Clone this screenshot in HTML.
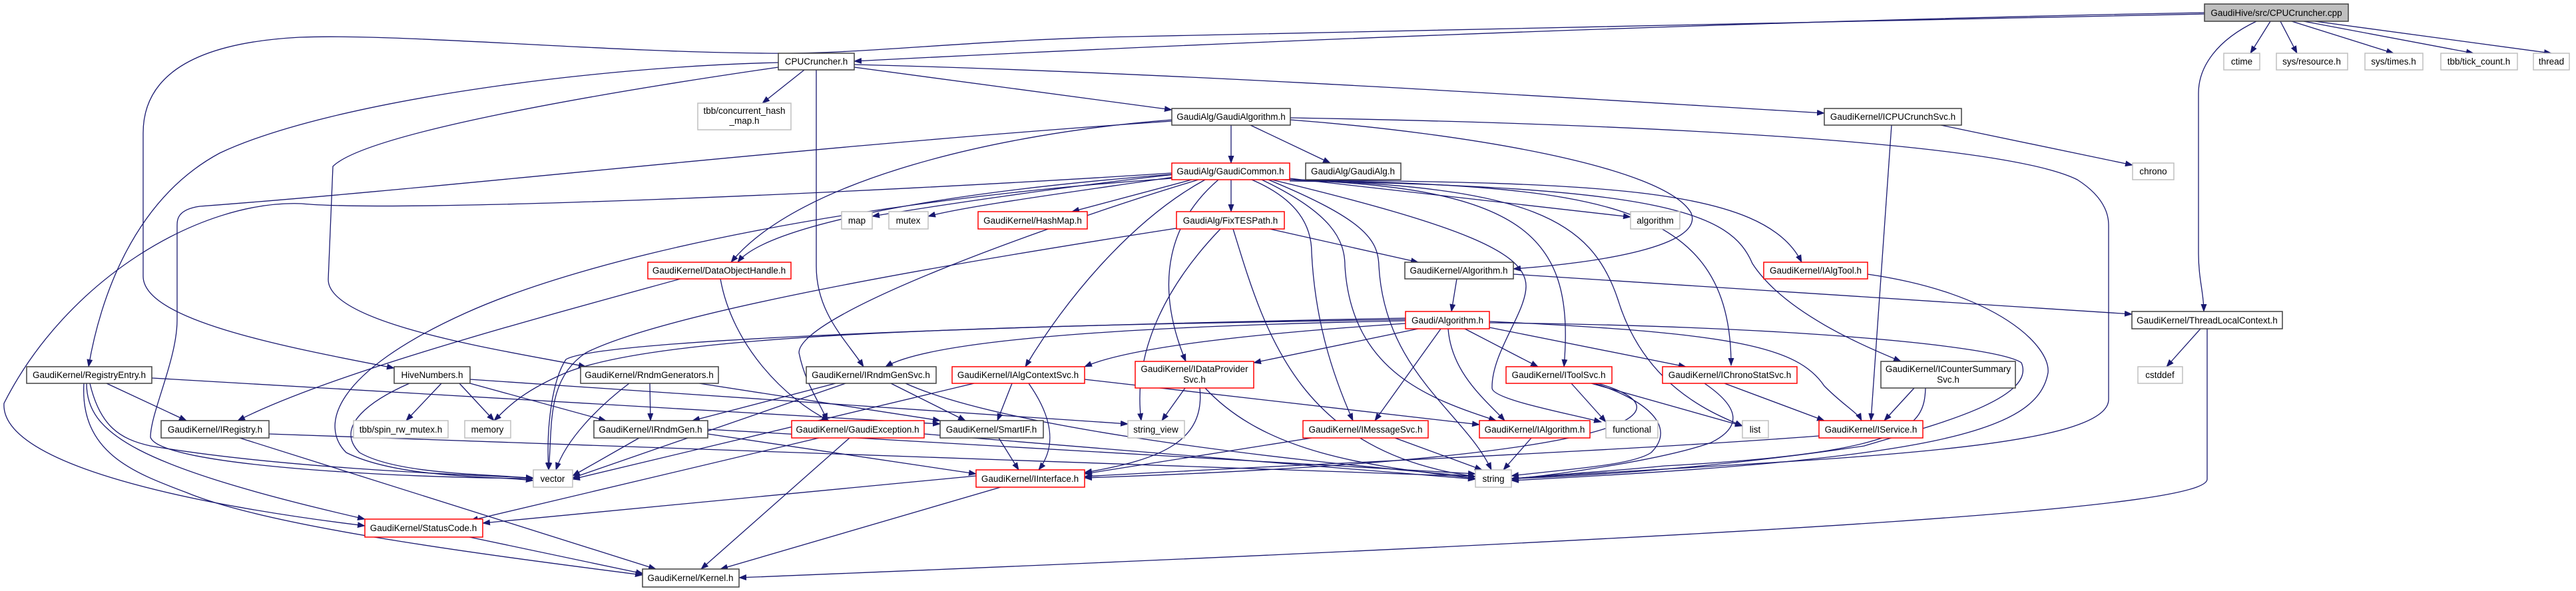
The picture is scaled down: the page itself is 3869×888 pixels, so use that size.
<!DOCTYPE html>
<html><head><meta charset="utf-8"><style>
html,body{margin:0;padding:0;background:#fff;}
svg{display:block;}
text{font-family:"Liberation Sans",sans-serif;font-size:13.5px;fill:#000;text-anchor:middle;}
.e{fill:none;stroke:#191970;stroke-width:1.3;marker-end:url(#a);}
</style></head><body>
<svg width="3869" height="888" viewBox="0 0 3869 888" xmlns="http://www.w3.org/2000/svg">
<defs><marker id="a" markerWidth="12" markerHeight="9" refX="11" refY="4.5" orient="auto" markerUnits="userSpaceOnUse"><polygon points="0,0 12,4.5 0,9" fill="#191970"/></marker></defs>
<g>
<path class="e" d="M3311,19 C2700,30 1900,60 1283,92"/>
<path class="e" d="M3311,21 C2600,40 1900,52 1700,55 C1450,60 1300,82 1150,80 C900,78 600,50 450,56 C280,65 215,120 215,200 L215,415 C215,480 420,520 592,553"/>
<path class="e" d="M3389,32 C3330,60 3302,100 3302,140 L3302,380 C3302,420 3310,440 3310,468"/>
<path class="e" d="M3410,32 L3380,80"/><path class="e" d="M3425,32 L3450,80"/><path class="e" d="M3442,32 L3595,80"/><path class="e" d="M3460,32 L3715,80"/><path class="e" d="M3477,32 L3832,80"/>
<path class="e" d="M1208,105 L1145,155"/>
<path class="e" d="M1226,105 L1226,400 C1226,470 1270,510 1297,551"/>
<path class="e" d="M1283,101 L1760,165"/>
<path class="e" d="M1283,97 C1800,110 2400,150 2740,170"/>
<path class="e" d="M1169,94 C900,100 500,150 330,230 C200,300 150,450 133,551"/>
<path class="e" d="M1169,101 C900,140 550,200 500,250 L493,420 C493,490 780,530 880,551"/>
<path class="e" d="M1849,188 L1849,245"/>
<path class="e" d="M1878,188 L1998,245"/>
<path class="e" d="M1938,180 C2200,200 2500,250 2540,320 C2560,370 2400,395 2273,404"/>
<path class="e" d="M1938,177 C2400,185 3000,210 3120,270 C3167,300 3167,330 3167,340 L3167,600 C3167,680 2700,690 2270,719"/>
<path class="e" d="M1760,180 C1500,200 1200,270 1098,394"/>
<path class="e" d="M1760,182 C1200,220 700,280 300,310 C266,315 266,330 266,340 L266,481 C266,540 226,620 226,657 C240,700 600,718 801,719"/>
<path class="e" d="M1765,262 C1600,280 1400,310 1310,325"/>
<path class="e" d="M1770,265 C1600,290 1450,310 1394,325"/>
<path class="e" d="M1790,270 L1610,318"/>
<path class="e" d="M1849,270 L1849,318"/>
<path class="e" d="M1937,268 L2449,326"/>
<path class="e" d="M1760,262 C1400,290 1150,340 1108,394"/>
<path class="e" d="M1800,270 C1600,330 1200,470 1200,530 C1210,580 1235,610 1242,632"/>
<path class="e" d="M1810,270 C1700,330 1600,450 1540,551"/>
<path class="e" d="M1830,270 C1760,330 1730,420 1781,543"/>
<path class="e" d="M1880,270 C1950,300 1970,340 1970,380 C1975,480 2000,560 2032,632"/>
<path class="e" d="M1895,270 C2000,320 2020,360 2020,400 C2030,560 2150,600 2247,632"/>
<path class="e" d="M1905,270 C2050,330 2070,360 2071,400 C2080,560 2200,620 2240,706"/>
<path class="e" d="M1910,270 C2200,340 2292,380 2292,430 C2292,470 2240,530 2241,583 C2241,600 2350,620 2405,634"/>
<path class="e" d="M1925,270 C2300,280 2365,360 2349,551"/>
<path class="e" d="M1930,270 C2300,280 2390,330 2430,450 C2470,580 2570,620 2617,640"/>
<path class="e" d="M1935,270 C2400,280 2600,300 2600,549"/>
<path class="e" d="M1937,270 C2400,275 2650,280 2706,394"/>
<path class="e" d="M1937,272 C2500,280 2600,320 2632,396 C2680,470 2800,520 2855,543"/>
<path class="e" d="M1760,268 C1300,300 900,380 700,470 C500,560 480,640 520,680 C600,720 750,715 801,722"/>
<path class="e" d="M1760,260 C1300,290 600,320 453,306 C300,300 100,420 6,606 C0,700 300,760 548,790"/>
<path class="e" d="M1907,344 L2130,394"/>
<path class="e" d="M1833,344 C1760,420 1700,520 1714,632"/>
<path class="e" d="M1852,344 C1900,500 1950,680 2216,716"/>
<path class="e" d="M1767,343 C1400,400 1000,470 880,530 C820,570 830,640 824,706"/>
<path class="e" d="M2188,419 L2180,468"/>
<path class="e" d="M2273,412 L3202,472"/>
<path class="e" d="M2111,482 C1700,490 1400,510 1330,551"/>
<path class="e" d="M2111,486 C1900,500 1700,520 1629,551"/>
<path class="e" d="M2130,494 L1883,545"/>
<path class="e" d="M2164,494 L2065,632"/>
<path class="e" d="M2175,494 C2180,560 2230,600 2260,632"/>
<path class="e" d="M2200,494 L2310,551"/>
<path class="e" d="M2237,492 L2532,551"/>
<path class="e" d="M2237,483 C2600,500 2700,520 2740,580 C2770,610 2790,620 2796,632"/>
<path class="e" d="M2237,485 C2700,490 3000,520 3036,545 C3060,600 2900,640 2800,670 C2600,700 2400,715 2270,719"/>
<path class="e" d="M2111,480 C1500,490 1000,500 850,560 C780,590 760,615 742,632"/>
<path class="e" d="M2111,478 C1500,490 900,510 850,540 C830,570 820,640 824,706"/>
<path class="e" d="M1255,576 L1040,632"/>
<path class="e" d="M1338,576 L1450,632"/>
<path class="e" d="M1270,576 L860,718"/>
<path class="e" d="M1360,576 C1500,640 1900,690 2216,716"/>
<path class="e" d="M1520,576 L1498,632"/>
<path class="e" d="M1545,576 C1590,640 1580,680 1560,706"/>
<path class="e" d="M1463,576 C1200,640 950,700 860,720"/>
<path class="e" d="M1629,570 L2222,638"/>
<path class="e" d="M1780,583 L1745,632"/>
<path class="e" d="M1802,583 C1810,660 1750,690 1629,710"/>
<path class="e" d="M1810,583 C1900,680 2050,700 2216,719"/>
<path class="e" d="M2360,576 L2412,634"/>
<path class="e" d="M2395,576 C2470,600 2520,640 2480,680 C2450,700 2350,705 2270,715"/>
<path class="e" d="M2390,576 L2617,640"/>
<path class="e" d="M2400,576 C2550,620 2450,690 1629,718"/>
<path class="e" d="M2590,576 L2740,632"/>
<path class="e" d="M2560,576 C2610,610 2620,640 2570,665 C2500,690 2350,712 2270,720"/>
<path class="e" d="M2892,583 C2890,640 2870,680 2500,700 C2400,710 2300,715 2270,720"/>
<path class="e" d="M2875,583 L2830,632"/>
<path class="e" d="M2805,412 C3000,440 3080,520 3076,560 C3060,650 2900,690 2270,722"/>
<path class="e" d="M2841,188 L2810,632"/>
<path class="e" d="M2915,188 L3203,248"/>
<path class="e" d="M3305,494 L3254,551"/>
<path class="e" d="M3315,494 L3315,720 C3315,760 2800,800 1110,868"/>
<path class="e" d="M2732,655 C2400,680 1900,700 1629,716"/>
<path class="e" d="M1970,658 L1629,712"/>
<path class="e" d="M2095,658 L2226,706"/>
<path class="e" d="M2300,658 L2258,706"/>
<path class="e" d="M1500,658 L1530,706"/>
<path class="e" d="M1276,658 L1053,855"/>
<path class="e" d="M1230,658 L707,782"/>
<path class="e" d="M1388,652 C1700,680 2000,700 2216,720"/>
<path class="e" d="M1466,715 L725,786"/>
<path class="e" d="M1503,732 L1082,855"/>
<path class="e" d="M960,658 L860,715"/>
<path class="e" d="M1063,652 L1466,712"/>
<path class="e" d="M1063,645 L2216,712"/>
<path class="e" d="M976,576 L977,632"/>
<path class="e" d="M945,576 C900,610 850,660 835,706"/>
<path class="e" d="M1050,576 L1412,632"/>
<path class="e" d="M663,576 L610,632"/>
<path class="e" d="M690,576 L742,632"/>
<path class="e" d="M706,576 L910,632"/>
<path class="e" d="M615,576 C560,600 500,640 540,680 C600,715 750,712 801,719"/>
<path class="e" d="M706,570 L1694,637"/>
<path class="e" d="M160,576 L280,632"/>
<path class="e" d="M135,576 C150,640 180,660 226,670 C400,700 650,712 801,718"/>
<path class="e" d="M130,576 C130,650 200,700 548,780"/>
<path class="e" d="M126,576 C120,680 200,710 280,740 C400,790 700,830 965,864"/>
<path class="e" d="M228,568 L1412,637"/>
<path class="e" d="M360,658 L985,855"/>
<path class="e" d="M404,652 L2216,716"/>
<path class="e" d="M1082,419 C1100,520 1180,600 1245,632"/>
<path class="e" d="M1022,419 C800,480 500,560 357,632"/>
<path class="e" d="M705,807 L966,862"/>
</g>
<g stroke-width="1.5">
<rect x="3311" y="6" width="216" height="26" fill="#bfbfbf" stroke="#404040"/><text x="3419" y="24">GaudiHive/src/CPUCruncher.cpp</text>
<rect x="1169" y="80" width="114" height="25" fill="#fff" stroke="#404040"/><text x="1226" y="97">CPUCruncher.h</text>
<rect x="3340" y="80" width="54" height="25" fill="#fff" stroke="#bfbfbf"/><text x="3367" y="97">ctime</text>
<rect x="3419" y="80" width="107" height="25" fill="#fff" stroke="#bfbfbf"/><text x="3472" y="97">sys/resource.h</text>
<rect x="3552" y="80" width="87" height="25" fill="#fff" stroke="#bfbfbf"/><text x="3595" y="97">sys/times.h</text>
<rect x="3666" y="80" width="115" height="25" fill="#fff" stroke="#bfbfbf"/><text x="3723" y="97">tbb/tick_count.h</text>
<rect x="3805" y="80" width="54" height="25" fill="#fff" stroke="#bfbfbf"/><text x="3832" y="97">thread</text>
<rect x="1048" y="155" width="140" height="40" fill="#fff" stroke="#bfbfbf"/><text x="1118" y="171">tbb/concurrent_hash</text><text x="1118" y="186">_map.h</text>
<rect x="1760" y="163" width="178" height="25" fill="#fff" stroke="#404040"/><text x="1849" y="180">GaudiAlg/GaudiAlgorithm.h</text>
<rect x="2740" y="163" width="206" height="25" fill="#fff" stroke="#404040"/><text x="2843" y="180">GaudiKernel/ICPUCrunchSvc.h</text>
<rect x="1760" y="245" width="177" height="25" fill="#fff" stroke="#ff0000"/><text x="1848" y="262">GaudiAlg/GaudiCommon.h</text>
<rect x="1961" y="245" width="143" height="25" fill="#fff" stroke="#404040"/><text x="2032" y="262">GaudiAlg/GaudiAlg.h</text>
<rect x="3203" y="245" width="62" height="25" fill="#fff" stroke="#bfbfbf"/><text x="3234" y="262">chrono</text>
<rect x="1264" y="318" width="46" height="26" fill="#fff" stroke="#bfbfbf"/><text x="1287" y="336">map</text>
<rect x="1335" y="318" width="59" height="26" fill="#fff" stroke="#bfbfbf"/><text x="1364" y="336">mutex</text>
<rect x="1469" y="318" width="164" height="26" fill="#fff" stroke="#ff0000"/><text x="1551" y="336">GaudiKernel/HashMap.h</text>
<rect x="1767" y="318" width="162" height="26" fill="#fff" stroke="#ff0000"/><text x="1848" y="336">GaudiAlg/FixTESPath.h</text>
<rect x="2449" y="318" width="74" height="26" fill="#fff" stroke="#bfbfbf"/><text x="2486" y="336">algorithm</text>
<rect x="973" y="394" width="215" height="25" fill="#fff" stroke="#ff0000"/><text x="1080" y="411">GaudiKernel/DataObjectHandle.h</text>
<rect x="2110" y="394" width="163" height="25" fill="#fff" stroke="#404040"/><text x="2191" y="411">GaudiKernel/Algorithm.h</text>
<rect x="2649" y="394" width="156" height="25" fill="#fff" stroke="#ff0000"/><text x="2727" y="411">GaudiKernel/IAlgTool.h</text>
<rect x="2111" y="468" width="126" height="26" fill="#fff" stroke="#ff0000"/><text x="2174" y="486">Gaudi/Algorithm.h</text>
<rect x="3202" y="468" width="226" height="26" fill="#fff" stroke="#404040"/><text x="3315" y="486">GaudiKernel/ThreadLocalContext.h</text>
<rect x="40" y="551" width="188" height="25" fill="#fff" stroke="#404040"/><text x="134" y="568">GaudiKernel/RegistryEntry.h</text>
<rect x="592" y="551" width="114" height="25" fill="#fff" stroke="#404040"/><text x="649" y="568">HiveNumbers.h</text>
<rect x="872" y="551" width="207" height="25" fill="#fff" stroke="#404040"/><text x="975" y="568">GaudiKernel/RndmGenerators.h</text>
<rect x="1211" y="551" width="195" height="25" fill="#fff" stroke="#404040"/><text x="1308" y="568">GaudiKernel/IRndmGenSvc.h</text>
<rect x="1430" y="551" width="199" height="25" fill="#fff" stroke="#ff0000"/><text x="1529" y="568">GaudiKernel/IAlgContextSvc.h</text>
<rect x="1705" y="543" width="178" height="40" fill="#fff" stroke="#ff0000"/><text x="1794" y="559">GaudiKernel/IDataProvider</text><text x="1794" y="575">Svc.h</text>
<rect x="2262" y="551" width="159" height="25" fill="#fff" stroke="#ff0000"/><text x="2341" y="568">GaudiKernel/IToolSvc.h</text>
<rect x="2497" y="551" width="202" height="25" fill="#fff" stroke="#ff0000"/><text x="2598" y="568">GaudiKernel/IChronoStatSvc.h</text>
<rect x="2825" y="543" width="202" height="40" fill="#fff" stroke="#404040"/><text x="2926" y="559">GaudiKernel/ICounterSummary</text><text x="2926" y="575">Svc.h</text>
<rect x="3211" y="551" width="67" height="25" fill="#fff" stroke="#bfbfbf"/><text x="3244" y="568">cstddef</text>
<rect x="242" y="632" width="162" height="26" fill="#fff" stroke="#404040"/><text x="323" y="650">GaudiKernel/IRegistry.h</text>
<rect x="531" y="632" width="142" height="26" fill="#fff" stroke="#bfbfbf"/><text x="602" y="650">tbb/spin_rw_mutex.h</text>
<rect x="698" y="632" width="69" height="26" fill="#fff" stroke="#bfbfbf"/><text x="732" y="650">memory</text>
<rect x="892" y="632" width="171" height="26" fill="#fff" stroke="#404040"/><text x="977" y="650">GaudiKernel/IRndmGen.h</text>
<rect x="1189" y="632" width="199" height="26" fill="#fff" stroke="#ff0000"/><text x="1288" y="650">GaudiKernel/GaudiException.h</text>
<rect x="1412" y="632" width="155" height="26" fill="#fff" stroke="#404040"/><text x="1489" y="650">GaudiKernel/SmartIF.h</text>
<rect x="1694" y="632" width="85" height="26" fill="#fff" stroke="#bfbfbf"/><text x="1736" y="650">string_view</text>
<rect x="1957" y="632" width="188" height="26" fill="#fff" stroke="#ff0000"/><text x="2051" y="650">GaudiKernel/IMessageSvc.h</text>
<rect x="2222" y="632" width="166" height="26" fill="#fff" stroke="#ff0000"/><text x="2305" y="650">GaudiKernel/IAlgorithm.h</text>
<rect x="2412" y="632" width="78" height="26" fill="#fff" stroke="#bfbfbf"/><text x="2451" y="650">functional</text>
<rect x="2617" y="632" width="39" height="26" fill="#fff" stroke="#bfbfbf"/><text x="2636" y="650">list</text>
<rect x="2732" y="632" width="156" height="26" fill="#fff" stroke="#ff0000"/><text x="2810" y="650">GaudiKernel/IService.h</text>
<rect x="801" y="706" width="59" height="26" fill="#fff" stroke="#bfbfbf"/><text x="830" y="724">vector</text>
<rect x="1466" y="706" width="163" height="26" fill="#fff" stroke="#ff0000"/><text x="1547" y="724">GaudiKernel/IInterface.h</text>
<rect x="2216" y="706" width="54" height="26" fill="#fff" stroke="#bfbfbf"/><text x="2243" y="724">string</text>
<rect x="548" y="780" width="177" height="27" fill="#fff" stroke="#ff0000"/><text x="636" y="798">GaudiKernel/StatusCode.h</text>
<rect x="965" y="855" width="145" height="27" fill="#fff" stroke="#404040"/><text x="1037" y="873">GaudiKernel/Kernel.h</text>
</g>
</svg>
</body></html>
